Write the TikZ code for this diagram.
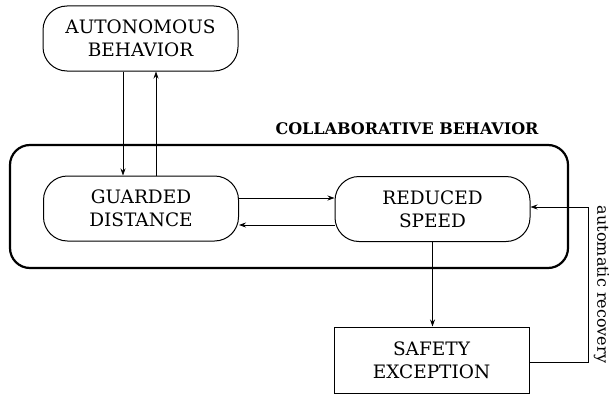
\documentclass[tikz,border=0pt]{standalone}
\usepackage{fontspec}
\setmainfont{DejaVu Serif}
\usepackage{tikz}
\usetikzlibrary{arrows.meta}

\begin{document}
\begin{tikzpicture}[x=1pt,y=-1pt,
  state/.style={draw,line width=1pt,rounded corners=24pt,minimum width=195pt,minimum height=65pt,align=center,inner sep=0pt,font=\fontsize{18.5}{23}\selectfont},
  exc/.style={draw,line width=1pt,minimum width=195pt,minimum height=66pt,align=center,inner sep=0pt,font=\fontsize{18.5}{23}\selectfont},
  arr/.style={-{Stealth[length=7pt,width=5pt]},line width=0.8pt}]
\useasboundingbox (0,0) rectangle (612,396);

%Shape: Outer box
\node [draw,line width=2.2pt,rounded corners=20pt,minimum width=558pt,minimum height=123pt] (collab) at (289,206.5) {};
% Text Node
\node [font=\fontsize{16}{19}\selectfont\bfseries] (title) at (407,129) {COLLABORATIVE BEHAVIOR};

%Shape: States
\node [state] (auto) at (140.5,38.5) {AUTONOMOUS\\BEHAVIOR};
\node [state] (guard) at (141,208.5) {GUARDED\\DISTANCE};
\node [state] (speed) at (432.5,209) {REDUCED\\SPEED};
\node [exc] (safety) at (431.5,360) {SAFETY\\EXCEPTION};

%Straight Lines
\draw [arr] ([xshift=-17.5pt]auto.south) -- ([xshift=-17.5pt]auto.south |- guard.north);
\draw [arr] ([xshift=15pt]guard.north) -- ([xshift=15pt]guard.north |- auto.south);
\draw [arr] ([yshift=10.5pt]guard.east) -- ([yshift=10.5pt]guard.east -| speed.west);
\draw [arr] ([yshift=-16pt]speed.west) -- ([yshift=-16pt]speed.west -| guard.east);
\draw [arr] (speed.south) -- (speed.south |- safety.north);
%Straight Lines: recovery loop
\coordinate (turn) at (588.5,362);
\draw [arr] ([yshift=-2pt]safety.east) -- (turn) |- ([yshift=2pt]speed.east)
  node [pos=0.25,anchor=south,rotate=-90,inner sep=5pt,font=\fontsize{16}{19}\selectfont] (reclabel) {automatic recovery};
\end{tikzpicture}
\end{document}
